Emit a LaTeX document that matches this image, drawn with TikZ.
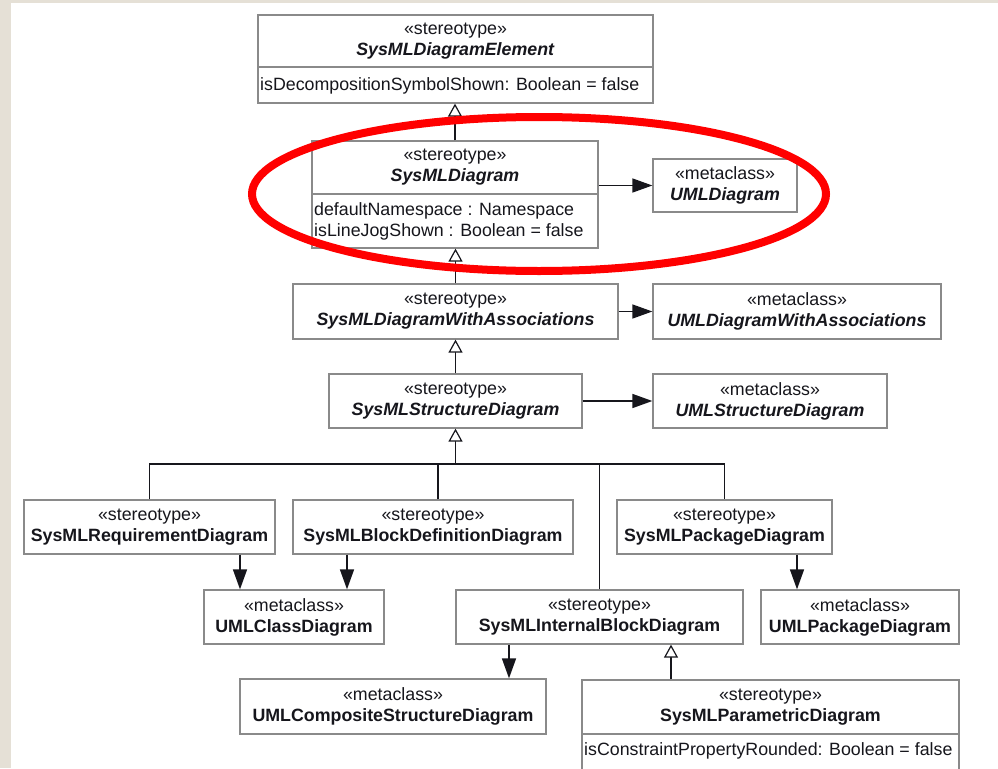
\documentclass[tikz,border=0pt]{standalone}
\usepackage{fontspec}
\setmainfont{Liberation Sans}
\usetikzlibrary{arrows.meta}

\definecolor{pagebg}{RGB}{229,224,214}
\definecolor{boxline}{RGB}{138,138,138}
\definecolor{ink}{RGB}{22,22,28}
\definecolor{markred}{RGB}{255,0,0}

\newcommand\elname[1]{\textbf{\textit{#1}}}

\begin{document}
\begin{tikzpicture}[x=1pt,y=-1pt,
  every node/.style={font=\fontsize{17.8}{21}\selectfont, text=ink},
  umlbox/.style={draw=boxline, line width=1.3pt, fill=white, inner sep=0pt, align=center},
  attrtext/.style={anchor=west, inner sep=0pt, align=left},
  link/.style={draw=ink, line width=1.5pt},
  gen/.style={link, -{Triangle[length=13pt, width=14pt, fill=white, line width=1.2pt]}},
  assoc/.style={link, -{Triangle[length=20pt, width=14pt]}},
]
\useasboundingbox (0,0) rectangle (998,768);
\clip (0,0) rectangle (998,768);
\fill[pagebg] (0,0) rectangle (998,768);
\fill[white] (11,3) rectangle (998,768);

% top of the hierarchy
\node[umlbox, minimum width=395pt, minimum height=52pt] (Ehead) at (455.5,41)
  {«stereotype»\\\elname{SysMLDiagramElement}};
\node[umlbox, minimum width=395pt, minimum height=36pt] (Eattr) at (455.5,85) {};
\node[attrtext] (Etext) at (260,86) {isDecompositionSymbolShown: Boolean = false};

\node[umlbox, minimum width=286pt, minimum height=53pt] (Dhead) at (455,167.5)
  {«stereotype»\\\elname{SysMLDiagram}};
\node[umlbox, minimum width=286pt, minimum height=54pt] (Dattr) at (455,221) {};
\node[attrtext] (Dtext) at (314,221)
  {defaultNamespace : Namespace\\isLineJogShown : Boolean = false};
\node[umlbox, minimum width=144pt, minimum height=53pt] (UD) at (725,185.5)
  {«metaclass»\\\elname{UMLDiagram}};

\node[umlbox, minimum width=325pt, minimum height=55pt] (DWA) at (455.5,311.5)
  {«stereotype»\\\elname{SysMLDiagramWithAssociations}};
\node[umlbox, minimum width=288pt, minimum height=55pt] (UDWA) at (797,311.5)
  {«metaclass»\\\elname{UMLDiagramWithAssociations}};

\node[umlbox, minimum width=253pt, minimum height=54pt] (SD) at (455.5,401)
  {«stereotype»\\\elname{SysMLStructureDiagram}};
\node[umlbox, minimum width=234pt, minimum height=54pt] (USD) at (770,401)
  {«metaclass»\\\elname{UMLStructureDiagram}};

% concrete diagram kinds
\node[umlbox, minimum width=251pt, minimum height=54pt] (Req) at (149.5,527)
  {«stereotype»\\\textbf{SysMLRequirementDiagram}};
\node[umlbox, minimum width=280pt, minimum height=54pt] (BDD) at (433,527)
  {«stereotype»\\\textbf{SysMLBlockDefinitionDiagram}};
\node[umlbox, minimum width=215pt, minimum height=54pt] (Pkg) at (724.5,527)
  {«stereotype»\\\textbf{SysMLPackageDiagram}};

\node[umlbox, minimum width=180pt, minimum height=54pt] (Class) at (294,617)
  {«metaclass»\\\textbf{UMLClassDiagram}};
\node[umlbox, minimum width=287pt, minimum height=54pt] (IBD) at (599.5,617)
  {«stereotype»\\\textbf{SysMLInternalBlockDiagram}};
\node[umlbox, minimum width=198pt, minimum height=54pt] (UPkg) at (860,617)
  {«metaclass»\\\textbf{UMLPackageDiagram}};

\node[umlbox, minimum width=306pt, minimum height=55pt] (Comp) at (393,706.5)
  {«metaclass»\\\textbf{UMLCompositeStructureDiagram}};
\node[umlbox, minimum width=377pt, minimum height=54pt] (Parhead) at (770.5,707)
  {«stereotype»\\\textbf{SysMLParametricDiagram}};
\node[umlbox, minimum width=377pt, minimum height=56pt] (Parattr) at (770.5,762) {};
\node[attrtext] (Partext) at (584,751) {isConstraintPropertyRounded: Boolean = false};

% generalizations
\draw[gen] (Dhead.north) -- (Dhead.north |- Eattr.south);
\draw[gen] (DWA.north) -- (DWA.north |- Dattr.south);
\draw[gen] (SD.north) -- (SD.north |- DWA.south);

\coordinate (bus) at (455.5,464);
\draw[gen] (bus) -- (SD.south);
\draw[link] (Req.north) -- (Req.north |- bus) -- (Pkg.north |- bus) -- (Pkg.north);
\draw[link] ([xshift=5pt]BDD.north) -- ([xshift=5pt]BDD.north |- bus);
\draw[link] (IBD.north) -- (IBD.north |- bus);
\draw[gen] ([xshift=-99.5pt]Parhead.north) -- ([xshift=-99.5pt]Parhead.north |- IBD.south);

% extensions of metaclasses
\draw[assoc] (Dhead.east |- UD.west) -- (UD.west);
\draw[assoc] (DWA.east) -- (UDWA.west);
\draw[assoc] (SD.east) -- (USD.west);
\draw[assoc] ([xshift=-54pt]Class.north |- Req.south) -- ([xshift=-54pt]Class.north);
\draw[assoc] ([xshift=53pt]Class.north |- BDD.south) -- ([xshift=53pt]Class.north);
\draw[assoc] ([xshift=-63pt]UPkg.north |- Pkg.south) -- ([xshift=-63pt]UPkg.north);
\draw[assoc] ([xshift=116pt]Comp.north |- IBD.south) -- ([xshift=116pt]Comp.north);

% highlight ring
\draw[markred, line width=8pt] (539,194) ellipse [x radius=287pt, y radius=77pt];
\end{tikzpicture}
\end{document}
